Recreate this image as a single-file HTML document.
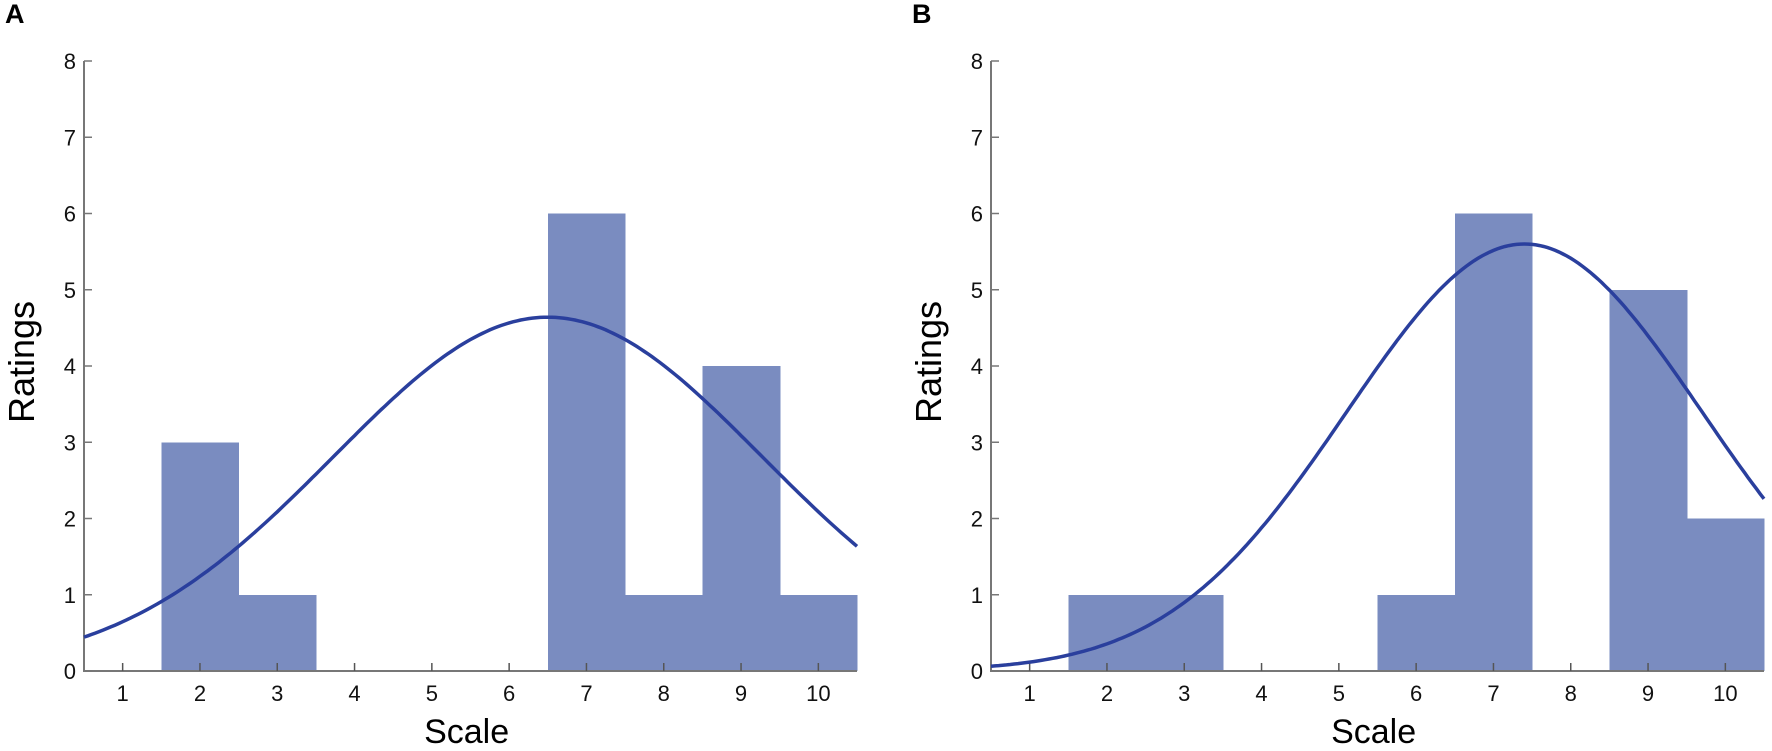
<!DOCTYPE html>
<html><head><meta charset="utf-8"><style>
html,body{margin:0;padding:0;background:#fff;}
svg{display:block;font-family:"Liberation Sans",Arial,sans-serif;}
</style></head><body>
<svg id="chart" width="1772" height="751" viewBox="0 0 1772 751" xmlns="http://www.w3.org/2000/svg"></svg>
<script>
const categories = [1,2,3,4,5,6,7,8,9,10];
const yTicks = [0,1,2,3,4,5,6,7,8];
const countsA = [0,3,1,0,0,0,6,1,4,1];
const countsB = [0,1,1,0,0,1,6,0,5,2];
const fitA = [6.5, 2.77, 4.64];   // mean, sd, peak
const fitB = [7.4, 2.30, 5.60];

const NS = "http://www.w3.org/2000/svg";
const svg = document.getElementById('chart');
function mk(tag, attrs, parent){
  const e = document.createElementNS(NS, tag);
  for (const k in attrs) e.setAttribute(k, attrs[k]);
  (parent||svg).appendChild(e); return e;
}

function panel(letter, x0, counts, fit){
  const g = mk('g', {});
  
  
  const y0 = 671, unitY = 76.25, unitX = 77.3;
  const sx = v => x0 + (v - 0.5) * unitX;
  const sy = v => y0 - v * unitY;

  const lbl = mk('text', {x: x0 - 79, y: 23, 'font-size': 27, 'font-weight': 'bold', fill: '#000'}, g);
  lbl.textContent = letter;
  
  

  counts.forEach((c, i) => {
    if (c <= 0) return;
    const r = mk('rect', {x: sx(categories[i] - 0.5), y: sy(c), width: unitX + 0.6, height: sy(0) - sy(c), fill: '#7a8cc0', 'shape-rendering': 'crispEdges'}, g);
    
    
  });

  const ax = mk('path', {d: `M${x0} ${sy(8)} V${y0} H${sx(10.5)}`, stroke: '#777', 'stroke-width': 2, fill: 'none'}, g);
  
  

  yTicks.forEach(t => {
    mk('line', {x1: x0, x2: x0 + 8, y1: sy(t), y2: sy(t), stroke: '#777', 'stroke-width': 1.5}, g);
    const tx = mk('text', {x: x0 - 8, y: sy(t) + 8, 'font-size': 22, 'text-anchor': 'end', fill: '#111'}, g);
    tx.textContent = t;
    
    
  });
  categories.forEach(c => {
    mk('line', {x1: sx(c), x2: sx(c), y1: y0, y2: y0 - 8, stroke: '#555', 'stroke-width': 1.5}, g);
    const tx = mk('text', {x: sx(c), y: 701, 'font-size': 22, 'text-anchor': 'middle', fill: '#111'}, g);
    tx.textContent = c;
    
    
  });

  let d = '';
  for (let i = 0; i <= 200; i++){
    const v = 0.5 + i * 10 / 200;
    const y = fit[2] * Math.exp(-((v - fit[0]) ** 2) / (2 * fit[1] * fit[1]));
    d += (i ? 'L' : 'M') + sx(v).toFixed(1) + ' ' + sy(y).toFixed(1);
  }
  const cv = mk('path', {d: d, stroke: '#2a3f9d', 'stroke-width': 3.5, fill: 'none'}, g);
  
  

  const yt = mk('text', {x: 0, y: 0, 'font-size': 36, 'text-anchor': 'middle', fill: '#000', transform: `translate(${x0 - 50},362) rotate(-90)`}, g);
  yt.textContent = 'Ratings';
  
  

  const xt = mk('text', {x: sx(5.45), y: 743, 'font-size': 34, 'text-anchor': 'middle', fill: '#000'}, g);
  xt.textContent = 'Scale';
  
  
}

panel('A', 84, countsA, fitA);
panel('B', 991, countsB, fitB);
</script>
</body></html>
